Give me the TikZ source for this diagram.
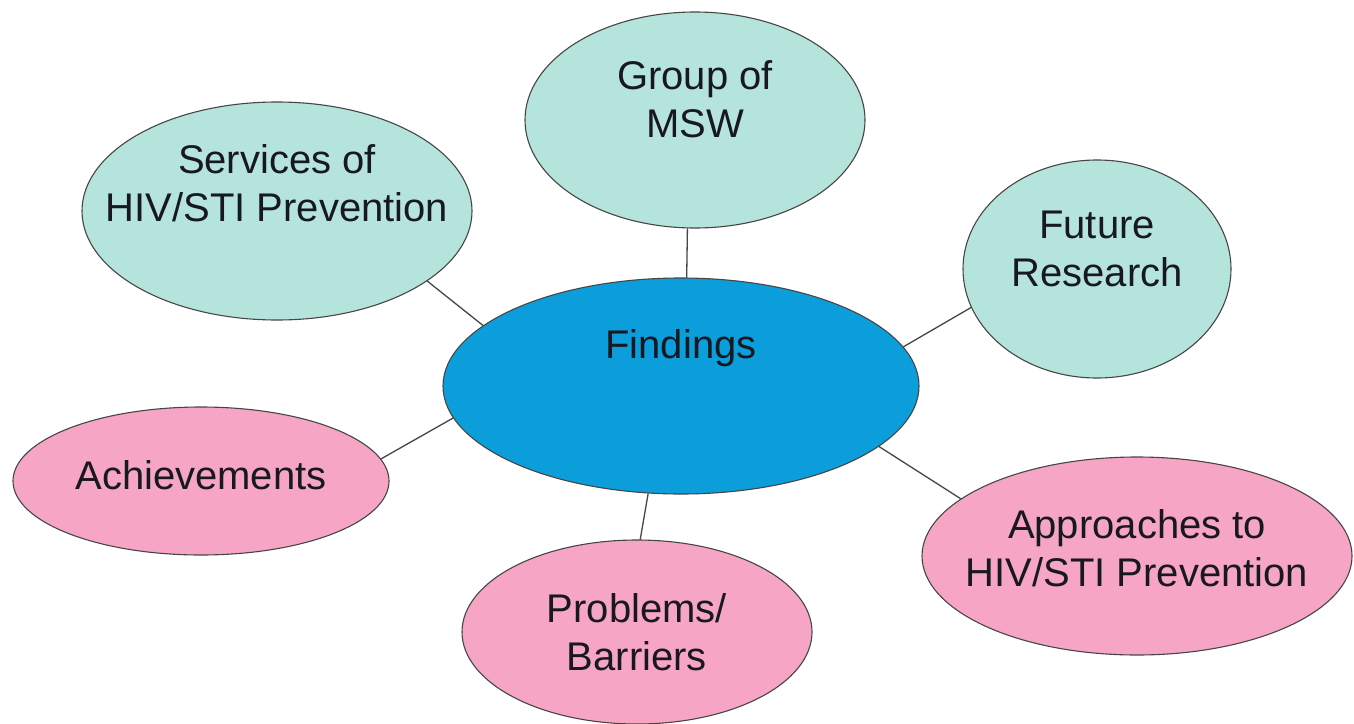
\documentclass[tikz,border=0pt]{standalone}
\usepackage{fontspec}
\setmainfont{Liberation Sans}
\usetikzlibrary{shapes.geometric}
\definecolor{cteal}{RGB}{181,228,220}
\definecolor{cpink}{RGB}{246,166,196}
\definecolor{cblue}{RGB}{12,158,218}
\definecolor{ctext}{RGB}{24,24,32}
\definecolor{cline}{RGB}{70,70,70}
\newcommand\ovaltext[2]{\raisebox{#1pt}[0pt][0pt]{\makebox[0pt]{\begin{tabular}[t]{@{}c@{}}#2\end{tabular}}}}
\begin{document}
\begin{tikzpicture}[x=1pt,y=-1pt,
  oval/.style={ellipse, draw=cline, line width=1.1pt, inner sep=0pt, text=ctext,
    font=\fontsize{40}{48}\selectfont},
  link/.style={draw=cline, line width=1.3pt}]
\fill[white] (0,0) rectangle (1354,723);
\useasboundingbox (0,0) rectangle (1354,723);
\node[oval, fill=cblue, minimum width=476pt, minimum height=216pt] (find) at (681,386) {\ovaltext{28}{Findings}};
\node[oval, fill=cteal, minimum width=340pt, minimum height=216pt] (grp) at (695,120) {\ovaltext{31}{Group of\\MSW}};
\node[oval, fill=cteal, minimum width=390pt, minimum height=218pt] (serv) at (277,211) {\ovaltext{38}{Services of\\HIV/STI Prevention}};
\node[oval, fill=cteal, minimum width=268pt, minimum height=218pt] (fut) at (1097,269) {\ovaltext{31}{Future\\Research}};
\node[oval, fill=cpink, minimum width=376pt, minimum height=148pt] (ach) at (201,481) {\ovaltext{-8}{Achievements}};
\node[oval, fill=cpink, minimum width=350pt, minimum height=184pt] (prob) at (637,632) {\ovaltext{10}{Problems/\\Barriers}};
\node[oval, fill=cpink, minimum width=430pt, minimum height=198pt] (appr) at (1137,556) {\ovaltext{18}{Approaches to\\HIV/STI Prevention}};
\draw[link] (serv.-25) -- (find.163);
\draw[link] (grp.266) -- (find.87);
\draw[link] (fut.197) -- (find.10);
\draw[link] (ach.7) -- (find.188);
\draw[link] (prob.88) -- (find.253);
\draw[link] (appr.162) -- (find.-17);
\end{tikzpicture}
\end{document}
